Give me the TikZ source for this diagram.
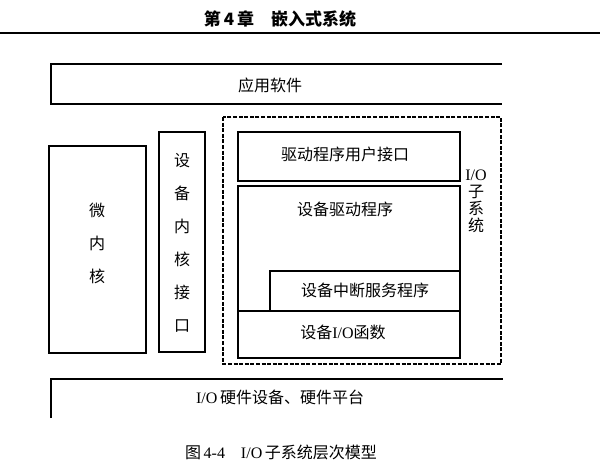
\documentclass[tikz,border=0pt]{standalone}
\usepackage{fontspec}
\setmainfont{Liberation Serif}
\newfontfamily\cjk{Noto Sans CJK SC}
\begin{document}
\begin{tikzpicture}[x=0.75pt,y=-0.75pt,line width=0.9pt,
  font=\cjk\fontsize{12}{14}\selectfont,
  vlabel/.style={align=center,inner sep=0pt,font=\cjk\fontsize{12}{24.75}\selectfont},
  iolabel/.style={align=center,inner sep=0pt,font=\cjk\fontsize{12}{12.75}\selectfont}]
  \useasboundingbox (0,0) rectangle (600,474);
  % page head
  \node (head) at (280,19) {\bfseries\fontsize{12.75}{14}\selectfont 第\,4\,章\quad 嵌入式系统};
  \draw[line width=1.1pt] (0,33)--(600,33);
  % application layer
  \draw (502,64)--(51,64)--(51,104)--(502,104);
  \node (app) at (270,85) {应用软件};
  % micro kernel and kernel interface
  \draw (49,146) rectangle (146,353);
  \node[vlabel] (mk) at (97,243) {微\\内\\核};
  \draw (159,132) rectangle (205,352);
  \node[vlabel] (kif) at (182,243) {设\\备\\内\\核\\接\\口};
  % I/O subsystem
  \draw[line width=1.1pt,dash pattern=on 3pt off 1.2pt] (223,117) rectangle (501,364);
  \draw (238,132) rectangle (460,181);
  \node (uif) at (345,154) {驱动程序用户接口};
  \draw (238,186) rectangle (460,358);
  \node (drv) at (345,209) {设备驱动程序};
  \draw (270,311)--(270,271)--(460,271);
  \draw (238,311)--(460,311);
  \node (isr) at (365,290) {设备中断服务程序};
  \node (iof) at (343,332) {设备{\rmfamily I/O}函数};
  \node[iolabel] (ios) at (476,201) {{\rmfamily I/O}\\子\\系\\统};
  % hardware layer
  \draw (51,418)--(51,379)--(503,379);
  \node (hw) at (280,397) {{\rmfamily I/O}\,硬件设备、硬件平台};
  % caption
  \node (cap) at (281,452) {图\,{\rmfamily 4-4}\quad{\rmfamily I/O}\,子系统层次模型};
\end{tikzpicture}
\end{document}
